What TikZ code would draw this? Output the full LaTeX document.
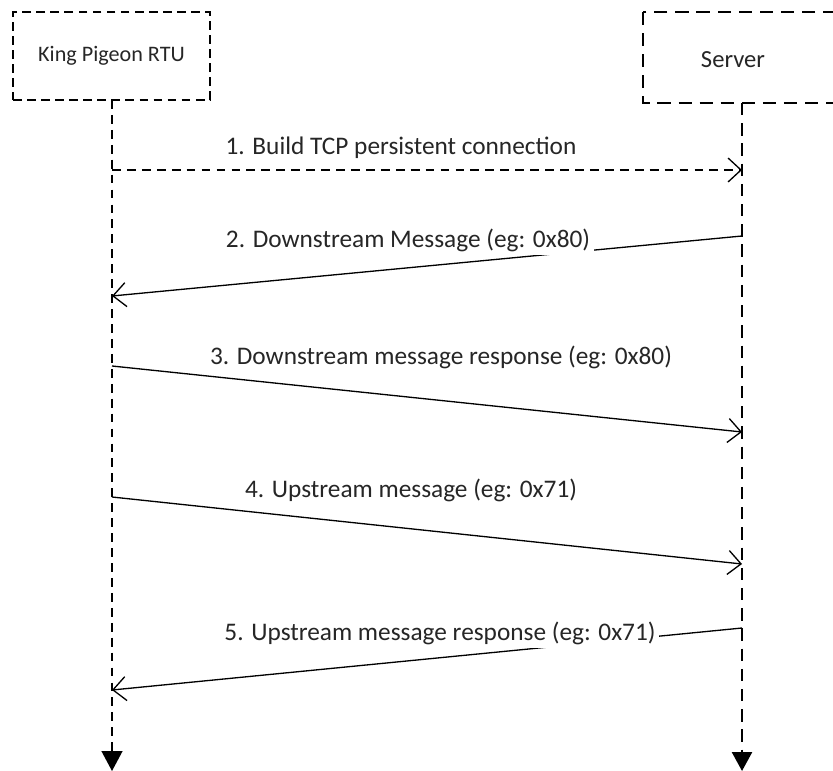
\documentclass[tikz,border=0pt]{standalone}
\usepackage{fontspec}
\setmainfont{Carlito}
\usetikzlibrary{arrows.meta,positioning}
\definecolor{mytext}{RGB}{38,38,38}

\begin{document}
\begin{tikzpicture}[every node/.style={font=\fontsize{12.6}{15}\selectfont, text=mytext},
    thinbox/.style={draw, line width=0.7pt, dash pattern=on 5pt off 3pt},
    thickbox/.style={draw, line width=1.4pt, dash pattern=on 7.5pt off 4.5pt},
    lifeleft/.style={line width=0.8pt, dash pattern=on 5pt off 3.5pt, -{Triangle[length=4mm,width=4.2mm]}},
    liferight/.style={line width=1.4pt, dash pattern=on 7pt off 4.5pt, -{Triangle[length=3.8mm,width=4mm]}},
    msg/.style={line width=0.75pt, -{Straight Barb[length=2.6mm,width=4.8mm]}},
    msglabel/.style={fill=white, inner sep=2pt, font=\fontsize{14.4}{17}\selectfont}]
  \useasboundingbox (0,0) rectangle (16.66,-15.42);
  \clip (0,0) rectangle (16.66,-15.42);
  % --- participants ---
  \node[thinbox, minimum width=3.94cm, minimum height=1.76cm] (rtu) at (2.23,-1.12) {King Pigeon RTU};
  \draw[thickbox] (12.86,-0.24) rectangle (17.4,-2.06);
  \node[font=\fontsize{14}{16}\selectfont] (server) at (14.66,-1.2) {Server};
  % --- lifelines ---
  \coordinate (rtutop) at (2.24,-2.0);
  \coordinate (rtuend) at (2.24,-15.42);
  \coordinate (srvtop) at (14.84,-2.06);
  \coordinate (srvend) at (14.84,-15.42);
  \draw[lifeleft] (rtutop) -- (rtuend);
  \draw[liferight] (srvtop) -- (srvend);
  % --- message points on the lifelines ---
  \coordinate (l1) at (2.24,-3.4);   \coordinate (r1) at (14.84,-3.4);
  \coordinate (r2) at (14.84,-4.72); \coordinate (l2) at (2.24,-5.92);
  \coordinate (l3) at (2.24,-7.32);  \coordinate (r3) at (14.84,-8.64);
  \coordinate (l4) at (2.24,-9.94);  \coordinate (r4) at (14.84,-11.28);
  \coordinate (r5) at (14.84,-12.56); \coordinate (l5) at (2.24,-13.8);
  % --- messages ---
  \draw[msg, dash pattern=on 5pt off 3.5pt] (l1) -- (r1);
  \draw[msg] (r2) -- (l2);
  \draw[msg] (l3) -- (r3);
  \draw[msg] (l4) -- (r4);
  \draw[msg] (r5) -- (l5);
  % --- message labels ---
  \node[msglabel] (m1) at (8.02,-2.96) {1. Build TCP persistent connection};
  \node[msglabel] (m2) at (8.16,-4.8) {2. Downstream Message (eg: 0x80)};
  \node[msglabel] (m3) at (8.82,-7.14) {3. Downstream message response (eg: 0x80)};
  \node[msglabel] (m4) at (8.22,-9.8) {4. Upstream message (eg: 0x71)};
  \node[msglabel] (m5) at (8.8,-12.66) {5. Upstream message response (eg: 0x71)};
\end{tikzpicture}
\end{document}
